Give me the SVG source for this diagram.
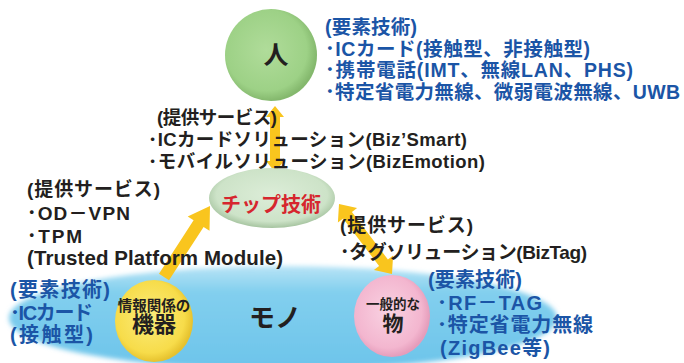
<svg xmlns="http://www.w3.org/2000/svg" width="684" height="363" viewBox="0 0 684 363">
<defs>
<style>
text{font-family:"Liberation Sans","Noto Sans CJK JP",sans-serif;font-weight:bold}
.blue{fill:#1b55a6}
.blk{fill:#231f20}
.arrow{fill:#f9c51e}
</style>
<radialGradient id="gGreen" cx="0.45" cy="0.45" r="0.55">
<stop offset="0" stop-color="#b0dc9a"/><stop offset="0.8" stop-color="#9dd186"/><stop offset="1" stop-color="#84b86d"/>
</radialGradient>
<radialGradient id="gChip" cx="0.5" cy="0.45" r="0.55">
<stop offset="0" stop-color="#dcedd8"/><stop offset="0.8" stop-color="#cde3c8"/><stop offset="1" stop-color="#a6c4a0"/>
</radialGradient>
<radialGradient id="gYellow" cx="0.45" cy="0.45" r="0.55">
<stop offset="0" stop-color="#fbec7c"/><stop offset="0.8" stop-color="#f7dc4a"/><stop offset="1" stop-color="#e6c22e"/>
</radialGradient>
<radialGradient id="gPink" cx="0.45" cy="0.45" r="0.55">
<stop offset="0" stop-color="#f9d2e2"/><stop offset="0.8" stop-color="#f3b6cf"/><stop offset="1" stop-color="#e59dbb"/>
</radialGradient>
<linearGradient id="gBand" x1="0" y1="0" x2="0" y2="1">
<stop offset="0" stop-color="#b8e4f6"/><stop offset="0.25" stop-color="#82cfee"/><stop offset="1" stop-color="#6cc4ea"/>
</linearGradient>
<filter id="soft" x="-0.05" y="-0.2" width="1.1" height="1.4"><feGaussianBlur stdDeviation="2.5"/></filter>
</defs>
<rect width="684" height="363" fill="#ffffff"/>

<g id="node-mono">
<ellipse cx="283" cy="318" rx="274" ry="52" fill="url(#gBand)" filter="url(#soft)"/>
<text x="275" y="327" font-size="26" text-anchor="middle" class="blk">モノ</text>
</g>

<g id="connectors">
<polygon class="arrow" points="275,106 284,117 280,117 280,161 284,161 275,172 266,161 270,161 270,117 266,117"/>
<polygon class="arrow" points="210,206 209.5,230.7 203.6,226.9 169,280.3 159,273.7 193.6,220.3 187.7,216.5"/>
<polygon class="arrow" points="339,204 357.1,207.9 351.9,211.9 387.9,259.5 393.1,255.6 392,274 373.9,270 379.1,266.1 343.1,218.5 337.9,222.4"/>
</g>

<g id="node-hito">
<circle cx="271" cy="55" r="46" fill="url(#gGreen)"/>
<text x="276" y="64" font-size="25" text-anchor="middle" class="blk">人</text>
</g>

<g id="node-chip">
<ellipse cx="272" cy="198" rx="63" ry="30" fill="url(#gChip)"/>
<text x="271" y="212" font-size="20" text-anchor="middle" fill="#d6262e">チップ技術</text>
</g>

<g id="node-kiki">
<ellipse cx="154" cy="321" rx="39" ry="41" fill="url(#gYellow)"/>
<text x="154" y="311" font-size="14.5" text-anchor="middle" class="blk">情報関係の</text>
<text x="154" y="332" font-size="22" text-anchor="middle" class="blk">機器</text>
</g>

<g id="node-butsu">
<ellipse cx="392" cy="316" rx="38" ry="41" fill="url(#gPink)"/>
<text x="393" y="309" font-size="13.5" text-anchor="middle" class="blk">一般的な</text>
<text x="393" y="331" font-size="21" text-anchor="middle" class="blk">物</text>
</g>

<g id="text-hito-tech" class="blue" font-size="19.5">
<text x="325" y="34" textLength="92">(要素技術)</text>
<text x="325" y="56" textLength="265">･ICカード(接触型、非接触型)</text>
<text x="325" y="77" textLength="308">･携帯電話(IMT、無線LAN、PHS)</text>
<text x="325" y="99" textLength="355">･特定省電力無線、微弱電波無線、UWB</text>
</g>

<g id="text-service-top" class="blk" font-size="18.5">
<text x="157" y="124" textLength="120">(提供サービス)</text>
<text x="148" y="146" textLength="319">･ICカードソリューション(Biz’Smart)</text>
<text x="148" y="168" textLength="337">･モバイルソリューション(BizEmotion)</text>
</g>

<g id="text-service-left" class="blk" font-size="19">
<text x="27" y="196" textLength="133">(提供サービス)</text>
<text x="27" y="220" textLength="103">･OD－VPN</text>
<text x="27" y="243" textLength="55">･TPM</text>
<text x="27" y="265" font-size="20.5" textLength="256">(Trusted Platform Module)</text>
</g>

<g id="text-service-right" class="blk" font-size="19">
<text x="340" y="232" textLength="133">(提供サービス)</text>
<text x="340" y="259" textLength="247">･タグソリューション(BizTag)</text>
</g>

<g id="text-kiki-tech" class="blue" font-size="20">
<text x="10" y="297" textLength="100">(要素技術)</text>
<text x="10" y="320" textLength="83">･ICカード</text>
<text x="10" y="342" textLength="83">(接触型)</text>
</g>

<g id="text-butsu-tech" class="blue" font-size="20">
<text x="428" y="287" textLength="94">(要素技術)</text>
<text x="437" y="310" textLength="105">･RF－TAG</text>
<text x="437" y="332" textLength="156">･特定省電力無線</text>
<text x="440" y="355" textLength="110">(ZigBee等)</text>
</g>
</svg>
